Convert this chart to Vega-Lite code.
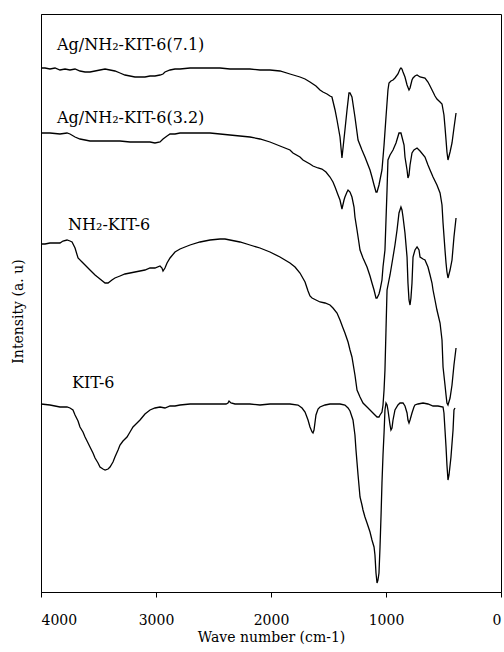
{
 "$schema": "https://vega.github.io/schema/vega-lite/v6.json",
 "width": 460, "height": 578,
 "autosize": "none",
 "padding": {"left": 41, "top": 14, "right": 3, "bottom": 60},
 "background": "white",
 "config": {"view": {"stroke": "black", "strokeWidth": 1}, "font": "DejaVu Serif",
  "axis": {"grid": false, "domainColor": "black", "tickColor": "black", "labelColor": "black", "titleColor": "black", "labelFont": "DejaVu Serif", "titleFont": "DejaVu Serif", "labelFontWeight": "normal", "titleFontWeight": "normal"}},
 "datasets": {
  "spectra": [
   {"s":"7.1","w":4000,"v":524},{"s":"7.1","w":3965,"v":524},{"s":"7.1","w":3922,"v":523},{"s":"7.1","w":3878,"v":524},{"s":"7.1","w":3835,"v":522},{"s":"7.1","w":3791,"v":523},{"s":"7.1","w":3748,"v":522},{"s":"7.1","w":3704,"v":523},{"s":"7.1","w":3661,"v":521},{"s":"7.1","w":3617,"v":520},{"s":"7.1","w":3574,"v":520},{"s":"7.1","w":3530,"v":521},{"s":"7.1","w":3487,"v":522},{"s":"7.1","w":3443,"v":523},{"s":"7.1","w":3400,"v":522},{"s":"7.1","w":3357,"v":521},{"s":"7.1","w":3313,"v":519},{"s":"7.1","w":3270,"v":517},{"s":"7.1","w":3226,"v":516},{"s":"7.1","w":3183,"v":515},{"s":"7.1","w":3139,"v":515},{"s":"7.1","w":3096,"v":515},{"s":"7.1","w":3052,"v":516},{"s":"7.1","w":3009,"v":516},{"s":"7.1","w":2965,"v":517},{"s":"7.1","w":2939,"v":518},{"s":"7.1","w":2922,"v":520},{"s":"7.1","w":2878,"v":522},{"s":"7.1","w":2835,"v":523},{"s":"7.1","w":2791,"v":523},{"s":"7.1","w":2704,"v":524},{"s":"7.1","w":2617,"v":524},{"s":"7.1","w":2530,"v":524},{"s":"7.1","w":2443,"v":524},{"s":"7.1","w":2357,"v":523},{"s":"7.1","w":2270,"v":523},{"s":"7.1","w":2183,"v":523},{"s":"7.1","w":2096,"v":522},{"s":"7.1","w":2009,"v":522},{"s":"7.1","w":1922,"v":521},{"s":"7.1","w":1835,"v":518},{"s":"7.1","w":1748,"v":515},{"s":"7.1","w":1704,"v":513},{"s":"7.1","w":1661,"v":510},{"s":"7.1","w":1635,"v":508},{"s":"7.1","w":1609,"v":506},{"s":"7.1","w":1574,"v":502},{"s":"7.1","w":1548,"v":500},{"s":"7.1","w":1513,"v":498},{"s":"7.1","w":1487,"v":496},{"s":"7.1","w":1470,"v":495},{"s":"7.1","w":1443,"v":482},{"s":"7.1","w":1426,"v":472},{"s":"7.1","w":1400,"v":455},{"s":"7.1","w":1383,"v":434},{"s":"7.1","w":1357,"v":462},{"s":"7.1","w":1339,"v":482},{"s":"7.1","w":1322,"v":499},{"s":"7.1","w":1313,"v":499},{"s":"7.1","w":1296,"v":495},{"s":"7.1","w":1270,"v":475},{"s":"7.1","w":1243,"v":452},{"s":"7.1","w":1209,"v":442},{"s":"7.1","w":1183,"v":435},{"s":"7.1","w":1139,"v":422},{"s":"7.1","w":1122,"v":415},{"s":"7.1","w":1104,"v":407},{"s":"7.1","w":1087,"v":400},{"s":"7.1","w":1078,"v":400},{"s":"7.1","w":1061,"v":407},{"s":"7.1","w":1035,"v":422},{"s":"7.1","w":1017,"v":447},{"s":"7.1","w":1000,"v":475},{"s":"7.1","w":983,"v":502},{"s":"7.1","w":974,"v":509},{"s":"7.1","w":957,"v":511},{"s":"7.1","w":939,"v":512},{"s":"7.1","w":922,"v":514},{"s":"7.1","w":896,"v":518},{"s":"7.1","w":878,"v":523},{"s":"7.1","w":870,"v":524},{"s":"7.1","w":861,"v":523},{"s":"7.1","w":852,"v":520},{"s":"7.1","w":835,"v":515},{"s":"7.1","w":817,"v":507},{"s":"7.1","w":800,"v":502},{"s":"7.1","w":791,"v":504},{"s":"7.1","w":774,"v":512},{"s":"7.1","w":765,"v":514},{"s":"7.1","w":748,"v":516},{"s":"7.1","w":730,"v":517},{"s":"7.1","w":704,"v":515},{"s":"7.1","w":661,"v":514},{"s":"7.1","w":635,"v":510},{"s":"7.1","w":617,"v":506},{"s":"7.1","w":591,"v":500},{"s":"7.1","w":574,"v":496},{"s":"7.1","w":557,"v":493},{"s":"7.1","w":530,"v":490},{"s":"7.1","w":513,"v":488},{"s":"7.1","w":496,"v":477},{"s":"7.1","w":487,"v":465},{"s":"7.1","w":478,"v":452},{"s":"7.1","w":470,"v":440},{"s":"7.1","w":461,"v":432},{"s":"7.1","w":443,"v":440},{"s":"7.1","w":426,"v":449},{"s":"7.1","w":409,"v":464},{"s":"7.1","w":391,"v":479},

   {"s":"3.2","w":4000,"v":459},{"s":"3.2","w":3922,"v":459},{"s":"3.2","w":3835,"v":458},{"s":"3.2","w":3774,"v":459},{"s":"3.2","w":3748,"v":458},{"s":"3.2","w":3704,"v":455},{"s":"3.2","w":3661,"v":453},{"s":"3.2","w":3617,"v":452},{"s":"3.2","w":3574,"v":451},{"s":"3.2","w":3487,"v":451},{"s":"3.2","w":3400,"v":451},{"s":"3.2","w":3313,"v":451},{"s":"3.2","w":3226,"v":450},{"s":"3.2","w":3139,"v":450},{"s":"3.2","w":3052,"v":450},{"s":"3.2","w":3009,"v":449},{"s":"3.2","w":2965,"v":450},{"s":"3.2","w":2939,"v":453},{"s":"3.2","w":2904,"v":456},{"s":"3.2","w":2878,"v":458},{"s":"3.2","w":2835,"v":458},{"s":"3.2","w":2791,"v":459},{"s":"3.2","w":2704,"v":459},{"s":"3.2","w":2617,"v":459},{"s":"3.2","w":2530,"v":459},{"s":"3.2","w":2443,"v":458},{"s":"3.2","w":2357,"v":457},{"s":"3.2","w":2270,"v":456},{"s":"3.2","w":2183,"v":455},{"s":"3.2","w":2096,"v":453},{"s":"3.2","w":2009,"v":450},{"s":"3.2","w":1922,"v":446},{"s":"3.2","w":1835,"v":442},{"s":"3.2","w":1809,"v":439},{"s":"3.2","w":1748,"v":435},{"s":"3.2","w":1722,"v":432},{"s":"3.2","w":1661,"v":428},{"s":"3.2","w":1635,"v":426},{"s":"3.2","w":1591,"v":424},{"s":"3.2","w":1557,"v":423},{"s":"3.2","w":1522,"v":420},{"s":"3.2","w":1487,"v":415},{"s":"3.2","w":1461,"v":410},{"s":"3.2","w":1443,"v":405},{"s":"3.2","w":1417,"v":397},{"s":"3.2","w":1400,"v":392},{"s":"3.2","w":1383,"v":383},{"s":"3.2","w":1365,"v":392},{"s":"3.2","w":1357,"v":395},{"s":"3.2","w":1339,"v":400},{"s":"3.2","w":1330,"v":402},{"s":"3.2","w":1313,"v":400},{"s":"3.2","w":1296,"v":395},{"s":"3.2","w":1278,"v":385},{"s":"3.2","w":1270,"v":375},{"s":"3.2","w":1252,"v":362},{"s":"3.2","w":1235,"v":349},{"s":"3.2","w":1226,"v":342},{"s":"3.2","w":1200,"v":334},{"s":"3.2","w":1165,"v":325},{"s":"3.2","w":1139,"v":316},{"s":"3.2","w":1122,"v":309},{"s":"3.2","w":1104,"v":302},{"s":"3.2","w":1087,"v":294},{"s":"3.2","w":1078,"v":294},{"s":"3.2","w":1061,"v":298},{"s":"3.2","w":1052,"v":302},{"s":"3.2","w":1035,"v":312},{"s":"3.2","w":1026,"v":325},{"s":"3.2","w":1009,"v":342},{"s":"3.2","w":1000,"v":372},{"s":"3.2","w":991,"v":402},{"s":"3.2","w":983,"v":432},{"s":"3.2","w":965,"v":437},{"s":"3.2","w":939,"v":442},{"s":"3.2","w":913,"v":449},{"s":"3.2","w":887,"v":459},{"s":"3.2","w":870,"v":459},{"s":"3.2","w":861,"v":455},{"s":"3.2","w":843,"v":447},{"s":"3.2","w":835,"v":435},{"s":"3.2","w":817,"v":422},{"s":"3.2","w":809,"v":414},{"s":"3.2","w":800,"v":417},{"s":"3.2","w":791,"v":427},{"s":"3.2","w":774,"v":439},{"s":"3.2","w":757,"v":442},{"s":"3.2","w":730,"v":444},{"s":"3.2","w":704,"v":441},{"s":"3.2","w":661,"v":435},{"s":"3.2","w":635,"v":427},{"s":"3.2","w":617,"v":422},{"s":"3.2","w":591,"v":415},{"s":"3.2","w":557,"v":407},{"s":"3.2","w":530,"v":399},{"s":"3.2","w":513,"v":387},{"s":"3.2","w":504,"v":369},{"s":"3.2","w":487,"v":342},{"s":"3.2","w":478,"v":329},{"s":"3.2","w":470,"v":320},{"s":"3.2","w":461,"v":314},{"s":"3.2","w":443,"v":322},{"s":"3.2","w":426,"v":332},{"s":"3.2","w":409,"v":355},{"s":"3.2","w":391,"v":374},

   {"s":"NH2","w":4000,"v":348},{"s":"NH2","w":3965,"v":348},{"s":"NH2","w":3922,"v":349},{"s":"NH2","w":3878,"v":349},{"s":"NH2","w":3835,"v":349},{"s":"NH2","w":3809,"v":351},{"s":"NH2","w":3774,"v":352},{"s":"NH2","w":3748,"v":351},{"s":"NH2","w":3730,"v":350},{"s":"NH2","w":3704,"v":344},{"s":"NH2","w":3678,"v":334},{"s":"NH2","w":3643,"v":330},{"s":"NH2","w":3617,"v":327},{"s":"NH2","w":3574,"v":322},{"s":"NH2","w":3530,"v":317},{"s":"NH2","w":3487,"v":313},{"s":"NH2","w":3443,"v":309},{"s":"NH2","w":3417,"v":309},{"s":"NH2","w":3383,"v":312},{"s":"NH2","w":3357,"v":314},{"s":"NH2","w":3313,"v":316},{"s":"NH2","w":3270,"v":318},{"s":"NH2","w":3226,"v":319},{"s":"NH2","w":3183,"v":320},{"s":"NH2","w":3139,"v":321},{"s":"NH2","w":3096,"v":322},{"s":"NH2","w":3052,"v":324},{"s":"NH2","w":3009,"v":324},{"s":"NH2","w":2965,"v":326},{"s":"NH2","w":2948,"v":324},{"s":"NH2","w":2939,"v":321},{"s":"NH2","w":2922,"v":324},{"s":"NH2","w":2904,"v":329},{"s":"NH2","w":2878,"v":334},{"s":"NH2","w":2835,"v":340},{"s":"NH2","w":2791,"v":343},{"s":"NH2","w":2748,"v":345},{"s":"NH2","w":2704,"v":347},{"s":"NH2","w":2617,"v":350},{"s":"NH2","w":2530,"v":352},{"s":"NH2","w":2443,"v":353},{"s":"NH2","w":2400,"v":353},{"s":"NH2","w":2357,"v":352},{"s":"NH2","w":2270,"v":350},{"s":"NH2","w":2183,"v":347},{"s":"NH2","w":2096,"v":344},{"s":"NH2","w":2009,"v":340},{"s":"NH2","w":1922,"v":335},{"s":"NH2","w":1835,"v":329},{"s":"NH2","w":1791,"v":325},{"s":"NH2","w":1748,"v":319},{"s":"NH2","w":1704,"v":310},{"s":"NH2","w":1678,"v":301},{"s":"NH2","w":1661,"v":296},{"s":"NH2","w":1643,"v":294},{"s":"NH2","w":1609,"v":292},{"s":"NH2","w":1574,"v":290},{"s":"NH2","w":1530,"v":289},{"s":"NH2","w":1487,"v":287},{"s":"NH2","w":1461,"v":284},{"s":"NH2","w":1426,"v":279},{"s":"NH2","w":1400,"v":272},{"s":"NH2","w":1374,"v":264},{"s":"NH2","w":1357,"v":259},{"s":"NH2","w":1330,"v":250},{"s":"NH2","w":1313,"v":242},{"s":"NH2","w":1296,"v":235},{"s":"NH2","w":1270,"v":217},{"s":"NH2","w":1252,"v":202},{"s":"NH2","w":1226,"v":195},{"s":"NH2","w":1200,"v":189},{"s":"NH2","w":1165,"v":185},{"s":"NH2","w":1139,"v":182},{"s":"NH2","w":1122,"v":180},{"s":"NH2","w":1096,"v":177},{"s":"NH2","w":1078,"v":175},{"s":"NH2","w":1061,"v":175},{"s":"NH2","w":1052,"v":177},{"s":"NH2","w":1035,"v":180},{"s":"NH2","w":1026,"v":187},{"s":"NH2","w":1017,"v":202},{"s":"NH2","w":1009,"v":222},{"s":"NH2","w":1000,"v":262},{"s":"NH2","w":991,"v":302},{"s":"NH2","w":974,"v":312},{"s":"NH2","w":965,"v":317},{"s":"NH2","w":939,"v":335},{"s":"NH2","w":922,"v":347},{"s":"NH2","w":904,"v":362},{"s":"NH2","w":887,"v":379},{"s":"NH2","w":870,"v":385},{"s":"NH2","w":861,"v":382},{"s":"NH2","w":852,"v":375},{"s":"NH2","w":835,"v":359},{"s":"NH2","w":817,"v":335},{"s":"NH2","w":809,"v":309},{"s":"NH2","w":800,"v":292},{"s":"NH2","w":791,"v":287},{"s":"NH2","w":783,"v":294},{"s":"NH2","w":774,"v":309},{"s":"NH2","w":765,"v":335},{"s":"NH2","w":748,"v":342},{"s":"NH2","w":730,"v":345},{"s":"NH2","w":713,"v":342},{"s":"NH2","w":704,"v":335},{"s":"NH2","w":678,"v":333},{"s":"NH2","w":661,"v":332},{"s":"NH2","w":635,"v":325},{"s":"NH2","w":617,"v":317},{"s":"NH2","w":600,"v":309},{"s":"NH2","w":591,"v":302},{"s":"NH2","w":574,"v":292},{"s":"NH2","w":557,"v":282},{"s":"NH2","w":530,"v":269},{"s":"NH2","w":513,"v":252},{"s":"NH2","w":504,"v":225},{"s":"NH2","w":487,"v":207},{"s":"NH2","w":478,"v":197},{"s":"NH2","w":470,"v":189},{"s":"NH2","w":461,"v":187},{"s":"NH2","w":443,"v":194},{"s":"NH2","w":426,"v":207},{"s":"NH2","w":409,"v":227},{"s":"NH2","w":391,"v":244},

   {"s":"KIT6","w":4000,"v":188},{"s":"KIT6","w":3922,"v":187},{"s":"KIT6","w":3835,"v":185},{"s":"KIT6","w":3774,"v":185},{"s":"KIT6","w":3748,"v":184},{"s":"KIT6","w":3722,"v":182},{"s":"KIT6","w":3704,"v":177},{"s":"KIT6","w":3678,"v":171},{"s":"KIT6","w":3661,"v":165},{"s":"KIT6","w":3635,"v":160},{"s":"KIT6","w":3617,"v":155},{"s":"KIT6","w":3591,"v":149},{"s":"KIT6","w":3574,"v":145},{"s":"KIT6","w":3548,"v":139},{"s":"KIT6","w":3530,"v":134},{"s":"KIT6","w":3504,"v":129},{"s":"KIT6","w":3487,"v":125},{"s":"KIT6","w":3461,"v":123},{"s":"KIT6","w":3443,"v":122},{"s":"KIT6","w":3417,"v":123},{"s":"KIT6","w":3400,"v":125},{"s":"KIT6","w":3374,"v":130},{"s":"KIT6","w":3357,"v":135},{"s":"KIT6","w":3330,"v":142},{"s":"KIT6","w":3313,"v":147},{"s":"KIT6","w":3287,"v":151},{"s":"KIT6","w":3252,"v":155},{"s":"KIT6","w":3226,"v":160},{"s":"KIT6","w":3200,"v":165},{"s":"KIT6","w":3165,"v":169},{"s":"KIT6","w":3139,"v":172},{"s":"KIT6","w":3096,"v":178},{"s":"KIT6","w":3052,"v":182},{"s":"KIT6","w":3009,"v":184},{"s":"KIT6","w":2965,"v":185},{"s":"KIT6","w":2922,"v":184},{"s":"KIT6","w":2878,"v":186},{"s":"KIT6","w":2835,"v":186},{"s":"KIT6","w":2791,"v":187},{"s":"KIT6","w":2704,"v":188},{"s":"KIT6","w":2617,"v":188},{"s":"KIT6","w":2530,"v":188},{"s":"KIT6","w":2443,"v":188},{"s":"KIT6","w":2391,"v":188},{"s":"KIT6","w":2374,"v":189},{"s":"KIT6","w":2365,"v":191},{"s":"KIT6","w":2348,"v":189},{"s":"KIT6","w":2313,"v":188},{"s":"KIT6","w":2270,"v":188},{"s":"KIT6","w":2183,"v":188},{"s":"KIT6","w":2096,"v":187},{"s":"KIT6","w":2009,"v":188},{"s":"KIT6","w":1922,"v":188},{"s":"KIT6","w":1835,"v":188},{"s":"KIT6","w":1765,"v":187},{"s":"KIT6","w":1730,"v":184},{"s":"KIT6","w":1704,"v":180},{"s":"KIT6","w":1678,"v":172},{"s":"KIT6","w":1661,"v":165},{"s":"KIT6","w":1643,"v":160},{"s":"KIT6","w":1635,"v":159},{"s":"KIT6","w":1626,"v":162},{"s":"KIT6","w":1609,"v":177},{"s":"KIT6","w":1591,"v":183},{"s":"KIT6","w":1574,"v":185},{"s":"KIT6","w":1530,"v":187},{"s":"KIT6","w":1487,"v":188},{"s":"KIT6","w":1400,"v":188},{"s":"KIT6","w":1357,"v":187},{"s":"KIT6","w":1330,"v":184},{"s":"KIT6","w":1313,"v":181},{"s":"KIT6","w":1287,"v":172},{"s":"KIT6","w":1270,"v":157},{"s":"KIT6","w":1261,"v":142},{"s":"KIT6","w":1243,"v":117},{"s":"KIT6","w":1226,"v":95},{"s":"KIT6","w":1209,"v":87},{"s":"KIT6","w":1200,"v":82},{"s":"KIT6","w":1183,"v":75},{"s":"KIT6","w":1165,"v":69},{"s":"KIT6","w":1139,"v":60},{"s":"KIT6","w":1122,"v":52},{"s":"KIT6","w":1104,"v":45},{"s":"KIT6","w":1096,"v":37},{"s":"KIT6","w":1087,"v":19},{"s":"KIT6","w":1078,"v":9},{"s":"KIT6","w":1070,"v":12},{"s":"KIT6","w":1061,"v":19},{"s":"KIT6","w":1052,"v":45},{"s":"KIT6","w":1043,"v":77},{"s":"KIT6","w":1035,"v":109},{"s":"KIT6","w":1026,"v":137},{"s":"KIT6","w":1017,"v":159},{"s":"KIT6","w":1009,"v":182},{"s":"KIT6","w":1000,"v":189},{"s":"KIT6","w":991,"v":187},{"s":"KIT6","w":983,"v":182},{"s":"KIT6","w":965,"v":167},{"s":"KIT6","w":957,"v":162},{"s":"KIT6","w":948,"v":164},{"s":"KIT6","w":939,"v":172},{"s":"KIT6","w":922,"v":182},{"s":"KIT6","w":896,"v":187},{"s":"KIT6","w":878,"v":189},{"s":"KIT6","w":852,"v":189},{"s":"KIT6","w":835,"v":186},{"s":"KIT6","w":817,"v":179},{"s":"KIT6","w":809,"v":172},{"s":"KIT6","w":800,"v":169},{"s":"KIT6","w":791,"v":172},{"s":"KIT6","w":774,"v":179},{"s":"KIT6","w":757,"v":185},{"s":"KIT6","w":748,"v":187},{"s":"KIT6","w":722,"v":188},{"s":"KIT6","w":678,"v":189},{"s":"KIT6","w":635,"v":188},{"s":"KIT6","w":591,"v":186},{"s":"KIT6","w":548,"v":186},{"s":"KIT6","w":504,"v":185},{"s":"KIT6","w":496,"v":179},{"s":"KIT6","w":487,"v":162},{"s":"KIT6","w":478,"v":145},{"s":"KIT6","w":470,"v":127},{"s":"KIT6","w":461,"v":112},{"s":"KIT6","w":452,"v":117},{"s":"KIT6","w":435,"v":135},{"s":"KIT6","w":417,"v":162},{"s":"KIT6","w":409,"v":182},{"s":"KIT6","w":400,"v":184}
  ],
  "labels": [
   {"label":"Ag/NH₂-KIT-6(7.1)","w":3861,"v":547},
   {"label":"Ag/NH₂-KIT-6(3.2)","w":3861,"v":474},
   {"label":"NH₂-KIT-6","w":3765,"v":367},
   {"label":"KIT-6","w":3730,"v":209}
  ]
 },
 "layer": [
  {"data": {"name": "spectra"},
   "mark": {"type": "line", "color": "black", "strokeWidth": 1.3},
   "encoding": {
    "x": {"field": "w", "type": "quantitative", "scale": {"domain": [0, 4000], "reverse": true, "nice": false},
     "axis": {"values": [0, 1000, 2000, 3000, 4000], "format": "d", "title": "Wave number (cm-1)", "labelFontSize": 14, "titleFontSize": 14, "tickSize": 5, "labelPadding": 16, "titlePadding": 3}},
    "y": {"field": "v", "type": "quantitative", "scale": {"domain": [0, 578], "nice": false},
     "axis": {"title": "Intensity (a. u)", "labels": false, "ticks": false, "titleFontSize": 14, "titleX": -16, "titleY": 297}},
    "detail": {"field": "s"}
   }},
  {"data": {"name": "labels"},
   "mark": {"type": "text", "align": "left", "baseline": "middle", "fontSize": 16, "font": "DejaVu Serif", "color": "black"},
   "encoding": {
    "x": {"field": "w", "type": "quantitative"},
    "y": {"field": "v", "type": "quantitative"},
    "text": {"field": "label"}
   }}
 ]
}
